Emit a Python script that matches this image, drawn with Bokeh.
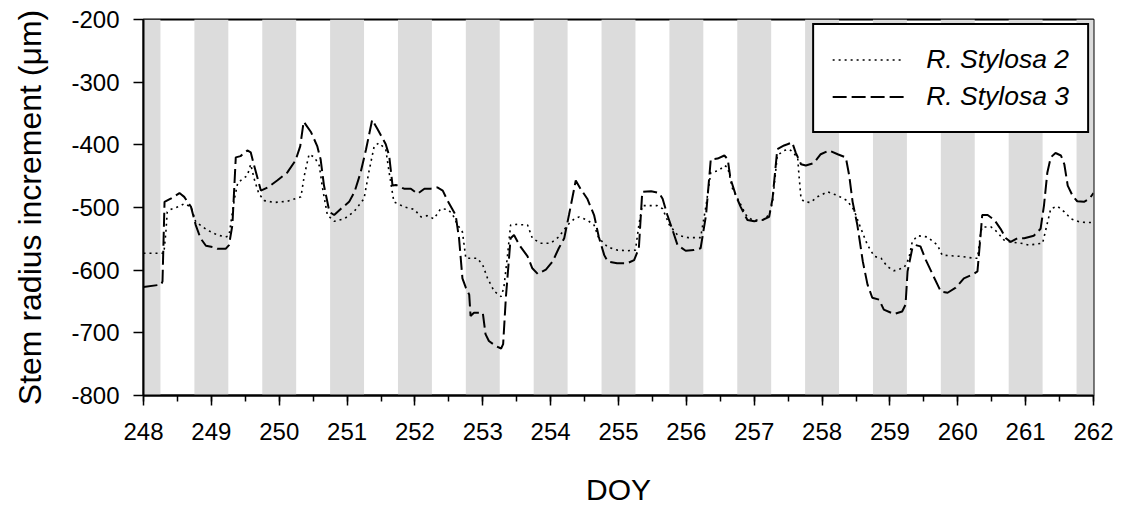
from bokeh.plotting import figure
from bokeh.models import SingleIntervalTicker, Range1d, Legend, LegendItem, PrintfTickFormatter
from bokeh.embed import file_html
from bokeh.resources import INLINE

# Night periods (day-of-year start/end), shaded grey
night_start = [247.75 + i for i in range(15)]
night_end = [248.25 + i for i in range(15)]

# R. Stylosa 2 (dotted)
doy_s2 = [248.00, 248.30, 248.33, 248.35, 248.40, 248.53, 248.60, 248.70, 248.77, 248.94,
          249.09, 249.21, 249.26, 249.34, 249.39, 249.43, 249.53, 249.58, 249.63, 249.70,
          249.78, 249.93, 250.12, 250.32, 250.37, 250.44, 250.52, 250.59, 250.64, 250.71,
          250.81, 250.96, 251.10, 251.25, 251.32, 251.40, 251.47, 251.57, 251.62, 251.69,
          251.84, 251.99, 252.09, 252.18, 252.28, 252.38, 252.48, 252.55, 252.63, 252.70,
          252.75, 252.92, 253.00, 253.07, 253.17, 253.27, 253.31, 253.36, 253.41, 253.49,
          253.66, 253.73, 253.85, 254.00, 254.12, 254.25, 254.35, 254.42, 254.54, 254.64,
          254.71, 254.84, 254.98, 255.13, 255.25, 255.30, 255.35, 255.57, 255.65, 255.75,
          255.87, 256.02, 256.21, 256.29, 256.36, 256.48, 256.56, 256.61, 256.68, 256.78,
          256.88, 256.97, 257.12, 257.22, 257.27, 257.34, 257.44, 257.51, 257.54, 257.64,
          257.66, 257.69, 257.74, 257.83, 257.93, 258.08, 258.23, 258.37, 258.47, 258.57,
          258.67, 258.77, 258.87, 258.96, 259.06, 259.21, 259.28, 259.33, 259.41, 259.55,
          259.70, 259.77, 259.90, 260.04, 260.24, 260.29, 260.34, 260.36, 260.49, 260.58,
          260.68, 260.78, 260.93, 261.05, 261.25, 261.30, 261.37, 261.47, 261.57, 261.67,
          261.79, 261.91, 262.00]
val_s2 = [-573, -573, -539, -507, -503, -498, -494, -499, -523, -536,
          -544, -547, -545, -486, -460, -457, -449, -431, -454, -478,
          -489, -492, -490, -483, -449, -415, -420, -433, -470, -512,
          -522, -518, -507, -486, -444, -402, -397, -407, -444, -491,
          -499, -503, -515, -513, -518, -502, -503, -510, -528, -539,
          -581, -581, -592, -613, -634, -642, -628, -581, -528, -527,
          -528, -549, -557, -557, -547, -528, -518, -515, -520, -528,
          -549, -563, -568, -569, -568, -528, -497, -497, -502, -528,
          -544, -548, -548, -497, -444, -441, -433, -436, -470, -491,
          -512, -520, -520, -512, -491, -417, -409, -407, -409, -420,
          -449, -486, -491, -492, -483, -475, -481, -489, -504, -533,
          -560, -578, -581, -594, -601, -596, -581, -554, -545, -547,
          -560, -576, -577, -578, -581, -581, -539, -531, -531, -539,
          -552, -555, -557, -560, -557, -534, -502, -498, -507, -518,
          -523, -524, -524]

# R. Stylosa 3 (dashed)
doy_s3 = [248.00, 248.26, 248.28, 248.31, 248.40, 248.53, 248.60, 248.70, 248.77, 248.84,
          248.92, 249.02, 249.09, 249.21, 249.26, 249.31, 249.36, 249.43, 249.53, 249.58,
          249.63, 249.73, 249.83, 249.97, 250.12, 250.24, 250.31, 250.36, 250.47, 250.56,
          250.61, 250.66, 250.74, 250.81, 250.91, 251.03, 251.11, 251.20, 251.28, 251.37,
          251.45, 251.57, 251.62, 251.67, 251.72, 251.84, 251.94, 252.04, 252.14, 252.23,
          252.33, 252.41, 252.48, 252.60, 252.65, 252.70, 252.75, 252.80, 252.82, 252.87,
          253.00, 253.04, 253.09, 253.19, 253.27, 253.30, 253.34, 253.41, 253.46, 253.54,
          253.66, 253.73, 253.81, 253.93, 254.03, 254.12, 254.20, 254.27, 254.37, 254.44,
          254.54, 254.64, 254.71, 254.79, 254.84, 254.98, 255.13, 255.23, 255.30, 255.35,
          255.48, 255.60, 255.65, 255.72, 255.79, 255.87, 255.99, 256.11, 256.21, 256.29,
          256.36, 256.46, 256.56, 256.61, 256.65, 256.73, 256.80, 256.90, 257.00, 257.12,
          257.22, 257.27, 257.34, 257.44, 257.49, 257.56, 257.61, 257.69, 257.76, 257.88,
          257.98, 258.10, 258.23, 258.35, 258.40, 258.45, 258.52, 258.60, 258.67, 258.74,
          258.84, 258.91, 259.06, 259.18, 259.23, 259.26, 259.33, 259.38, 259.45, 259.53,
          259.63, 259.75, 259.85, 259.97, 260.09, 260.22, 260.29, 260.34, 260.36, 260.44,
          260.54, 260.63, 260.71, 260.78, 260.88, 260.98, 261.12, 261.22, 261.27, 261.32,
          261.37, 261.44, 261.52, 261.57, 261.62, 261.69, 261.76, 261.86, 261.94, 262.00]
val_s3 = [-627, -623, -618, -491, -486, -477, -483, -499, -528, -549,
          -561, -563, -566, -566, -560, -528, -420, -418, -409, -412,
          -433, -473, -468, -457, -444, -425, -402, -363, -380, -402,
          -423, -465, -507, -512, -502, -491, -475, -444, -407, -360,
          -375, -399, -417, -465, -464, -470, -470, -478, -470, -470,
          -468, -473, -489, -512, -549, -613, -628, -639, -673, -668,
          -668, -702, -713, -721, -725, -718, -644, -549, -544, -560,
          -578, -597, -606, -599, -586, -565, -549, -512, -457, -470,
          -486, -512, -547, -576, -586, -589, -589, -584, -565, -475,
          -474, -477, -486, -512, -534, -560, -569, -568, -565, -512,
          -423, -422, -417, -423, -454, -481, -499, -520, -522, -520,
          -515, -486, -407, -401, -399, -396, -412, -431, -433, -429,
          -415, -409, -415, -420, -449, -491, -528, -586, -623, -644,
          -647, -663, -670, -666, -655, -602, -565, -560, -562, -584,
          -607, -634, -636, -628, -613, -607, -602, -539, -512, -512,
          -520, -534, -549, -555, -549, -549, -545, -534, -497, -444,
          -420, -413, -417, -431, -465, -481, -490, -491, -486, -477]

x_ticks_min, x_ticks_max = 248, 262
y_min, y_max = -800, -200

FONT = "Liberation Sans"

p = figure(width=1123, height=508, output_backend="svg", toolbar_location=None,
           x_range=Range1d(x_ticks_min, x_ticks_max), y_range=Range1d(y_min, y_max),
           min_border_left=143, min_border_right=30, min_border_top=19, min_border_bottom=110,
           background_fill_color="white", border_fill_color="white")

p.quad(left=night_start, right=night_end, bottom=y_min, top=y_max,
       fill_color="#dcdcdc", line_color=None)

r2 = p.line(doy_s2, val_s2, line_color="black", line_width=1.6, line_dash="2 4")
r3 = p.line(doy_s3, val_s3, line_color="black", line_width=2, line_dash="14 5")

p.xgrid.visible = False
p.ygrid.visible = False
p.outline_line_color = "black"
p.outline_line_width = 2
p.outline_line_alpha = 1

p.xaxis.ticker = SingleIntervalTicker(interval=1, num_minor_ticks=2)
p.yaxis.ticker = SingleIntervalTicker(interval=100, num_minor_ticks=0)
p.xaxis.formatter = PrintfTickFormatter(format="%d")
p.yaxis.formatter = PrintfTickFormatter(format="%d")

for ax in (p.xaxis[0], p.yaxis[0]):
    ax.axis_line_width = 2
    ax.axis_line_color = "black"
    ax.major_tick_in = 0
    ax.major_tick_out = 10
    ax.major_tick_line_width = 1.5
    ax.minor_tick_in = 0
    ax.minor_tick_out = 6
    ax.minor_tick_line_width = 1.5
    ax.major_label_text_font = FONT
    ax.major_label_text_font_size = "24px"
    ax.major_label_text_color = "black"
    ax.axis_label_text_font = FONT
    ax.axis_label_text_font_style = "normal"
    ax.axis_label_text_color = "black"

p.xaxis.axis_label = "DOY"
p.yaxis.axis_label = "Stem radius increment (\u03bcm)"
p.xaxis.axis_label_text_font_size = "30px"
p.yaxis.axis_label_text_font_size = "32px"
p.xaxis.major_label_standoff = 17
p.yaxis.major_label_standoff = 14
p.xaxis.axis_label_standoff = 30
p.yaxis.axis_label_standoff = 20

legend = Legend(items=[LegendItem(label="R. Stylosa 2", renderers=[r2]),
                       LegendItem(label="R. Stylosa 3", renderers=[r3])],
                location="top_right", margin=4, padding=18, spacing=4,
                glyph_width=72, glyph_height=33, label_height=33, label_standoff=22,
                label_text_font=FONT, label_text_font_size="26.5px",
                label_text_font_style="italic", label_text_color="black",
                border_line_color="black", border_line_width=2, border_line_alpha=1,
                background_fill_color="white", background_fill_alpha=1)
p.add_layout(legend, "center")

open("out.html", "w").write(file_html(p, INLINE))
